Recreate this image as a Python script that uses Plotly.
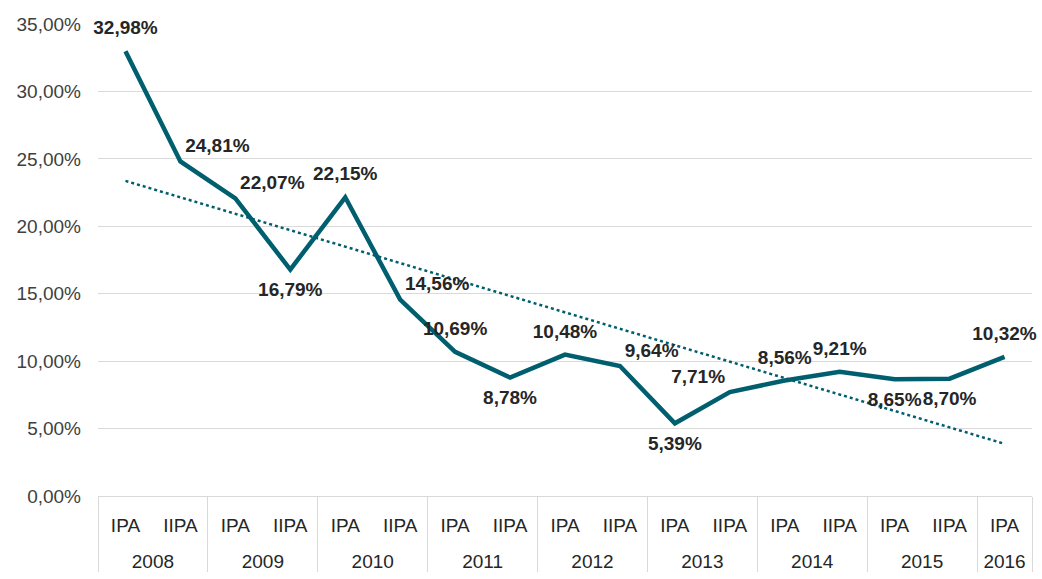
import numpy as np
import plotly.graph_objects as go

years = ["2008", "2008", "2009", "2009", "2010", "2010", "2011", "2011", "2012", "2012",
         "2013", "2013", "2014", "2014", "2015", "2015", "2016"]
periods = ["IPA", "IIPA"] * 8 + ["IPA"]
values = [32.98, 24.81, 22.07, 16.79, 22.15, 14.56, 10.69, 8.78, 10.48, 9.64,
          5.39, 7.71, 8.56, 9.21, 8.65, 8.70, 10.32]
label_pos = ["top center", "top right", "top right", "bottom center", "top center",
             "top right", "top center", "bottom center", "top center", "top right",
             "bottom center", "top left", "top center", "top center", "bottom center",
             "bottom center", "top center"]

idx = np.arange(len(values))
slope, intercept = np.polyfit(idx, values, 1)
trend = slope * idx + intercept

# inner tick labels get an empty (non-breaking space) line to open the gap to the year row
period_ticks = [p + "<br>\u00a0" for p in periods]
xcats = [years, period_ticks]

# invisible marker sizes only control how far each label sits from its point
label_gap = [18 if "center" in p else 6 for p in label_pos]

color = "#005F6E"
font = "Liberation Sans"

fig = go.Figure()
fig.add_trace(go.Scatter(
    x=xcats, y=trend, mode="lines",
    line=dict(color=color, width=2.5, dash="dot"), hoverinfo="skip", showlegend=False))
fig.add_trace(go.Scatter(
    x=xcats, y=values, mode="lines+markers+text",
    line=dict(color=color, width=4.5),
    marker=dict(size=label_gap, color="rgba(0,0,0,0)", opacity=0,
                line=dict(width=0, color="rgba(0,0,0,0)")),
    text=[f"{v:.2f}".replace(".", ",") + "%" for v in values],
    textposition=label_pos,
    textfont=dict(family=font, size=19, color="#262626", weight="bold"),
    cliponaxis=False,
    showlegend=False))

fig.update_layout(
    width=1042, height=579,
    margin=dict(l=98, r=10, t=24, b=83),
    paper_bgcolor="white", plot_bgcolor="white",
    separators=", ",
    font=dict(family=font, size=19, color="#262626"),
)
fig.update_yaxes(
    range=[0, 35], dtick=5, tickformat=".2f", ticksuffix="%",
    showgrid=True, gridcolor="#D9D9D9", gridwidth=1.3, zeroline=False,
    tickfont=dict(size=19, color="#404040"), ticks="", ticklabelstandoff=16,
    automargin=False)
fig.update_xaxes(
    type="multicategory", range=[-0.5, len(values) - 0.5],
    showline=True, linecolor="#D9D9D9", linewidth=1.3,
    showdividers=True, dividercolor="#D9D9D9", dividerwidth=1.3,
    tickfont=dict(size=19, color="#262626"), showgrid=False,
    ticklabelstandoff=12, automargin=False)

fig.write_html("out.html", config={"displayModeBar": False},
               post_script="document.body.style.margin='0';")
